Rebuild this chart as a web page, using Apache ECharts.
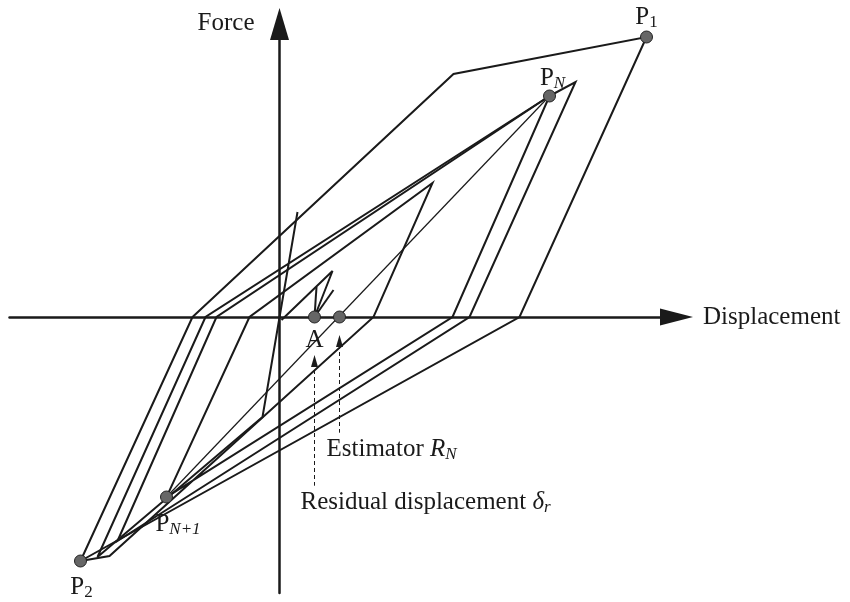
<!DOCTYPE html>
<html>
<head>
<meta charset="utf-8">
<script src="https://cdn.jsdelivr.net/npm/echarts@6/dist/echarts.min.js"></script>
<style>
  html, body { margin: 0; padding: 0; background: #ffffff; }
  #chart { width: 850px; height: 602px; }
</style>
</head>
<body>
<div id="chart"></div>
<script>
// Hysteresis branches as [displacement, force] pairs (arbitrary plot units)
const firstCycle   = [[-8.7, 0], [17.4, 24.3], [36.7, 28.0], [24.0, 0], [-19.9, -24.4], [-8.7, 0]];
const cycleN       = [[27.0, 22.1], [29.6, 23.5], [19.0, 0], [-16.2, -22.4], [-6.3, 0], [27.0, 22.1]];
const decayBranch  = [[27.0, 22.1], [17.3, 0], [-11.3, -18.0], [-3.0, 0], [15.3, 13.4], [9.4, 0], [-17.0, -23.9], [-19.9, -24.4]];
const earlyBranch  = [[1.8, 10.5], [-1.7, -10.0], [-18.2, -24.0], [-7.4, 0], [27.0, 22.1]];
const settleBranch = [[0.2, -0.3], [5.3, 4.6], [3.5, 0]];
const settleTickA  = [[3.5, 0], [3.7, 3.0]];
const settleTickB  = [[3.5, 0], [5.4, 2.7]];
// Chord from P_N to P_N+1 (its zero crossing is the estimator R_N)
const estimatorChord = [[27.0, 22.1], [-11.3, -18.0]];

// Marked states and their labels
const markedPoints = [[36.7, 28.0], [27.0, 22.1], [-11.3, -18.0], [-19.9, -24.4], [3.5, 0], [6.0, 0]];
const markedLabels = ['{m|P}{s|1}', '{m|P}{si|N}', '{m|P}{si|N+1}', '{m|P}{s|2}', '{m|A}', ''];

// Dashed pointers: [tail, head]
const estimatorPointer = [[6.0, -11.6], [6.0, -2.4]];
const residualPointer  = [[3.5, -16.9], [3.5, -4.4]];
const pointerLabels = ['{m|Estimator }{mi|R}{si|N}', '{m|Residual displacement }{mi|δ}{si|r}'];

// Axis titles
const xName = 'Displacement';
const yName = 'Force';

const INK = '#1a1a1a';
const SERIF = "'Liberation Serif', 'DejaVu Serif', serif";

const plain = { textBorderWidth: 0, textShadowBlur: 0, opacity: 1 };
const rich = {
  m:  Object.assign({ fontFamily: SERIF, fontSize: 25, color: INK, lineHeight: 26, verticalAlign: 'top' }, plain),
  mi: Object.assign({ fontFamily: SERIF, fontSize: 25, color: INK, lineHeight: 26, verticalAlign: 'top', fontStyle: 'italic' }, plain),
  s:  Object.assign({ fontFamily: SERIF, fontSize: 17, color: INK, lineHeight: 26, verticalAlign: 'bottom' }, plain),
  si: Object.assign({ fontFamily: SERIF, fontSize: 17, color: INK, lineHeight: 26, verticalAlign: 'bottom', fontStyle: 'italic' }, plain)
};

// label placement around each marked point (pixels)
const pointLabelOffsets = [[0, -18.9], [3, -16.9], [11.5, 28.1], [1, 27.1], [0, 24.1], [0, 0]];

function branch(data, width) {
  return {
    type: 'line',
    data: data,
    symbol: 'none',
    showSymbol: false,
    silent: true,
    z: 2,
    lineStyle: { color: INK, width: width, join: 'miter', miterLimit: 4, cap: 'butt', opacity: 1 }
  };
}

function pointer(data) {
  return {
    type: 'line',
    silent: true,
    z: 3,
    data: [
      { value: data[0], symbol: 'none' },
      { value: data[1], symbol: 'triangle', symbolSize: [7, 12] }
    ],
    showSymbol: true,
    itemStyle: { color: INK, opacity: 1 },
    lineStyle: { color: INK, width: 1, type: [4, 3] }
  };
}

function textLabel(text, align, offset) {
  return {
    show: text !== '',
    position: 'inside',
    align: align,
    verticalAlign: 'middle',
    offset: offset,
    formatter: text,
    color: INK,
    opacity: 1,
    textBorderWidth: 0,
    rich: rich
  };
}

const chart = echarts.init(document.getElementById('chart'), null, { renderer: 'canvas' });

chart.setOption({
  animation: false,
  backgroundColor: '#ffffff',
  grid: { left: 9.5, right: 173.5, top: 24, bottom: 9 },
  xAxis: {
    type: 'value',
    min: -27, max: 39.7,
    name: xName,
    nameLocation: 'end',
    nameGap: 26.5,
    nameTextStyle: { fontFamily: SERIF, fontSize: 25, color: INK, align: 'left', verticalAlign: 'middle' },
    axisLine: { onZero: true, lineStyle: { color: INK, width: 2.5 }, symbol: ['none', 'triangle'], symbolSize: [17, 33] },
    axisTick: { show: false },
    axisLabel: { show: false },
    splitLine: { show: false }
  },
  yAxis: {
    type: 'value',
    min: -27.6, max: 29.3,
    name: yName,
    nameLocation: 'end',
    nameGap: 1,
    nameTextStyle: { fontFamily: SERIF, fontSize: 25, color: INK, align: 'right', verticalAlign: 'middle', padding: [0, 25, 0, 0] },
    axisLine: { onZero: true, lineStyle: { color: INK, width: 2.5 }, symbol: ['none', 'triangle'], symbolSize: [19, 32] },
    axisTick: { show: false },
    axisLabel: { show: false },
    splitLine: { show: false }
  },
  series: [
    branch(firstCycle, 2),
    branch(cycleN, 2),
    branch(decayBranch, 2),
    branch(earlyBranch, 2),
    branch(settleBranch, 2),
    branch(settleTickA, 2),
    branch(settleTickB, 2),
    branch(estimatorChord, 1.2),
    pointer(estimatorPointer),
    pointer(residualPointer),
    {
      type: 'scatter',
      silent: true,
      z: 5,
      symbolSize: 12,
      itemStyle: { color: '#666666', borderColor: '#222222', borderWidth: 1, opacity: 1 },
      data: markedPoints.map((p, i) => ({
        value: p,
        label: textLabel(markedLabels[i], 'center', pointLabelOffsets[i])
      }))
    },
    {
      type: 'scatter',
      silent: true,
      z: 4,
      symbolSize: 1,
      itemStyle: { color: '#ffffff', opacity: 1 },
      data: [estimatorPointer[0], residualPointer[0]].map((p, i) => ({
        value: p,
        label: textLabel(pointerLabels[i], 'left', i === 0 ? [-13, 17.1] : [-14, 17.1])
      }))
    }
  ]
});
</script>
</body>
</html>
